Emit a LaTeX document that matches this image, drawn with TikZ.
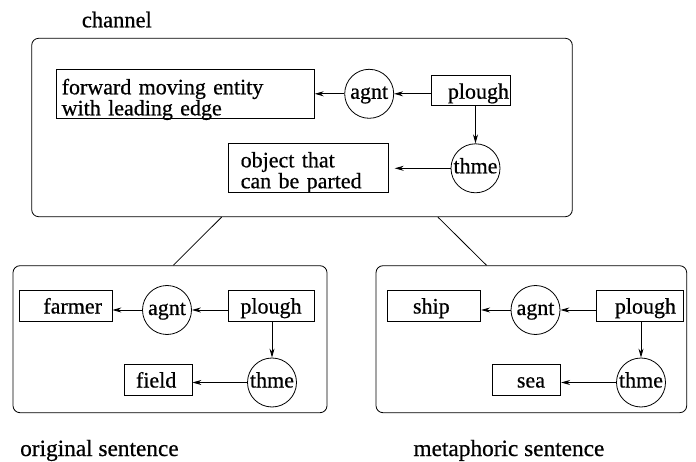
\documentclass[tikz,border=0pt]{standalone}
\usepackage{fontspec}
\setmainfont{Liberation Serif}[RawFeature={embolden=0.6}]
\usetikzlibrary{arrows.meta,calc}
\begin{document}
\begin{tikzpicture}[x=1pt,y=-1pt,
  every node/.style={font=\fontsize{22}{17}\selectfont},
  frame/.style={draw,rounded corners=7pt,line width=0.8pt,inner sep=0pt},
  box/.style={draw,line width=0.8pt,inner ysep=0pt,text height=16pt,text depth=0pt,minimum height=31pt},
  rel/.style={draw,circle,line width=0.8pt,inner sep=0pt,minimum size=49pt,text height=10pt,text depth=0pt},
  conn/.style={line width=0.8pt},
  arr/.style={line width=0.8pt,-{Stealth[length=9pt,width=5pt,inset=3pt]}},
  lbl/.style={inner sep=0pt,anchor=base west,font=\fontsize{23.3}{17}\selectfont}
]
\useasboundingbox (0,0) rectangle (696,462);

% frames
\node[frame,minimum width=540.6pt,minimum height=178.4pt] (chan) at (302,127.5) {};
\node[frame,minimum width=314pt,minimum height=147pt] (orig) at (170,339.2) {};
\node[frame,minimum width=310.7pt,minimum height=147pt] (meta) at (531.35,339.2) {};

% labels
\node[lbl,font=\fontsize{22.5}{17}\selectfont] (chanlbl) at (81.7,27.3) {channel};
\node[lbl] (origlbl) at (20,456) {original sentence};
\node[lbl] (metalbl) at (413.3,456) {metaphoric sentence};

% top graph
\node[box,text width=246.9pt,inner xsep=5.7pt,align=left,minimum height=49pt,text height=22.8pt,text depth=21.8pt] (fwd) at (185.15,93.8) {forward moving entity\\with leading edge};
\node[rel] (a1) at (369.2,93.8) {agnt};
\node[box,text width=75.6pt,inner xsep=1.7pt,align=right,minimum height=30pt] (p1) at (471.2,90.7) {plough};
\node[rel] (t1) at (475.5,168.3) {thme};
\node[box,text width=135.2pt,inner xsep=12.4pt,align=left,minimum height=49pt,text height=20.8pt,text depth=21.8pt] (obj) at (308.3,167.8) {object that\\can be parted};

\draw[arr] (p1.west |- a1) -- (a1);
\draw[arr] (a1) -- (a1 -| fwd.east);
\draw[arr] (t1 |- p1.south) -- (t1);
\draw[arr,shorten >=6pt] (t1) -- (t1 -| obj.east);

% left graph
\node[box,text width=73pt,inner xsep=10pt,align=right] (farmer) at (65.5,305.5) {farmer};
\node[rel] (a2) at (167,310) {agnt};
\node[box,text width=80pt,inner xsep=3pt,align=center] (p2) at (271,305.5) {plough};
\node[rel] (t2) at (272,382.5) {thme};
\node[box,text width=44pt,inner xsep=12pt,align=left] (field) at (158,379.5) {field};

\draw[arr] (p2.west |- a2) -- (a2);
\draw[arr] (a2) -- (a2 -| farmer.east);
\draw[arr] (t2 |- p2.south) -- (t2);
\draw[arr] (t2) -- (t2 -| field.east);

% right graph
\node[box,text width=42pt,inner xsep=25.7pt,align=left] (ship) at (434,305.5) {ship};
\node[rel] (a3) at (535.5,310) {agnt};
\node[box,text width=72pt,inner xsep=7.3pt,align=right] (p3) at (640,305.5) {plough};
\node[rel] (t3) at (641,382.5) {thme};
\node[box,text width=36.6pt,inner xsep=15.7pt,align=right] (sea) at (526.7,379.5) {sea};

\draw[arr] (p3.west |- a3) -- (a3);
\draw[arr] (a3) -- (a3 -| ship.east);
\draw[arr] (t3 |- p3.south) -- (t3);
\draw[arr] (t3) -- (t3 -| sea.east);

% links between frames
\draw[conn] ($(chan.south west)!0.3515!(chan.south east)$) -- ($(orig.north west)!0.5105!(orig.north east)$);
\draw[conn] ($(chan.south west)!0.751!(chan.south east)$) -- ($(meta.north west)!0.356!(meta.north east)$);
\end{tikzpicture}
\end{document}
